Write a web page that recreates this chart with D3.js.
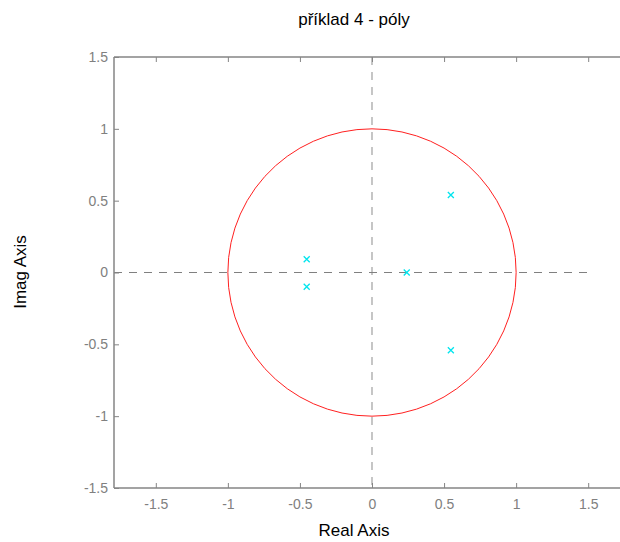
<!DOCTYPE html>
<html>
<head>
<meta charset="utf-8">
<script src="https://cdn.jsdelivr.net/npm/d3@7"></script>
<style>
  body { margin: 0; background: #fff; }
  svg { display: block; }
  text { font-family: "Liberation Sans", Arial, sans-serif; }
</style>
</head>
<body>
<svg id="chart" width="620" height="542"></svg>
<script>
// Pole locations (real, imaginary)
const poleRe = [-0.453, -0.453, 0.241, 0.547, 0.547];
const poleIm = [0.092, -0.099, 0.0, 0.539, -0.541];

const xTicks = [-1.5, -1, -0.5, 0, 0.5, 1, 1.5];
const yTicks = [-1.5, -1, -0.5, 0, 0.5, 1, 1.5];

const titleText = "příklad 4 - póly";
const xLabel = "Real Axis";
const yLabel = "Imag Axis";

const svg = d3.select("#chart");

const x = d3.scaleLinear().domain([-1.79, 1.79]).range([114, 630]);
const y = d3.scaleLinear().domain([-1.5, 1.5]).range([488, 57]);

const axisColor = "#858585";
const fmt = d => String(d);

// Zero reference lines
svg.append("line")
  .attr("x1", x(0)).attr("x2", x(0))
  .attr("y1", y(1.5)).attr("y2", y(-1.5))
  .attr("stroke", "#a0a0a0").attr("stroke-width", 1.2)
  .attr("stroke-dasharray", "8,7");
svg.append("line")
  .attr("x1", x(-1.79)).attr("x2", x(1.5))
  .attr("y1", y(0)).attr("y2", y(0))
  .attr("stroke", "#808080").attr("stroke-width", 1.2)
  .attr("stroke-dasharray", "8,7");

// Unit circle
const n = 60;
const circ = d3.range(n + 1).map(i => {
  const t = 2 * Math.PI * i / n;
  return [Math.cos(t), Math.sin(t)];
});
svg.append("path")
  .attr("d", d3.line().x(d => x(d[0])).y(d => y(d[1]))(circ))
  .attr("fill", "none").attr("stroke", "#ff2020").attr("stroke-width", 1);

// Pole markers
const s = 3;
const poles = poleRe.map((r, i) => [r, poleIm[i]]);
svg.append("g").selectAll("path").data(poles).join("path")
  .attr("d", d => {
    const cx = x(d[0]), cy = y(d[1]);
    return `M${cx - s},${cy - s}L${cx + s},${cy + s}M${cx - s},${cy + s}L${cx + s},${cy - s}`;
  })
  .attr("stroke", "#00e5ee").attr("stroke-width", 1.3).attr("fill", "none");

// Axes with inward ticks
const axBottom = svg.append("g").attr("transform", `translate(0,${y(-1.5)})`)
  .call(d3.axisBottom(x).tickValues(xTicks).tickSize(-5).tickPadding(11).tickFormat(fmt));
const axTop = svg.append("g").attr("transform", `translate(0,${y(1.5)})`)
  .call(d3.axisTop(x).tickValues(xTicks).tickSize(-5).tickFormat(""));
const axLeft = svg.append("g").attr("transform", `translate(${x(-1.79)},0)`)
  .call(d3.axisLeft(y).tickValues(yTicks).tickSize(-5).tickPadding(6).tickFormat(fmt));

[axBottom, axTop, axLeft].forEach(g => {
  g.select(".domain").attr("stroke", axisColor).attr("stroke-width", 1.5);
  g.selectAll(".tick line").attr("stroke", axisColor);
  g.selectAll(".tick text").attr("fill", "#808080").style("font-size", "14px")
    .style("font-family", "'Liberation Sans', Arial, sans-serif");
});
axBottom.select(".domain").attr("d", `M114,0H630`);
axTop.select(".domain").attr("d", `M114,0H630`);
axLeft.select(".domain").attr("d", `M0,57V488`);

// Titles
svg.append("text").attr("x", 354).attr("y", 25).attr("text-anchor", "middle")
  .style("font-size", "17px").attr("fill", "#000").text(titleText);
svg.append("text").attr("x", 354).attr("y", 536).attr("text-anchor", "middle")
  .style("font-size", "17px").attr("fill", "#000").text(xLabel);
svg.append("text").attr("transform", `translate(26,272) rotate(-90)`).attr("text-anchor", "middle")
  .style("font-size", "17px").attr("fill", "#000").text(yLabel);
</script>
</body>
</html>
